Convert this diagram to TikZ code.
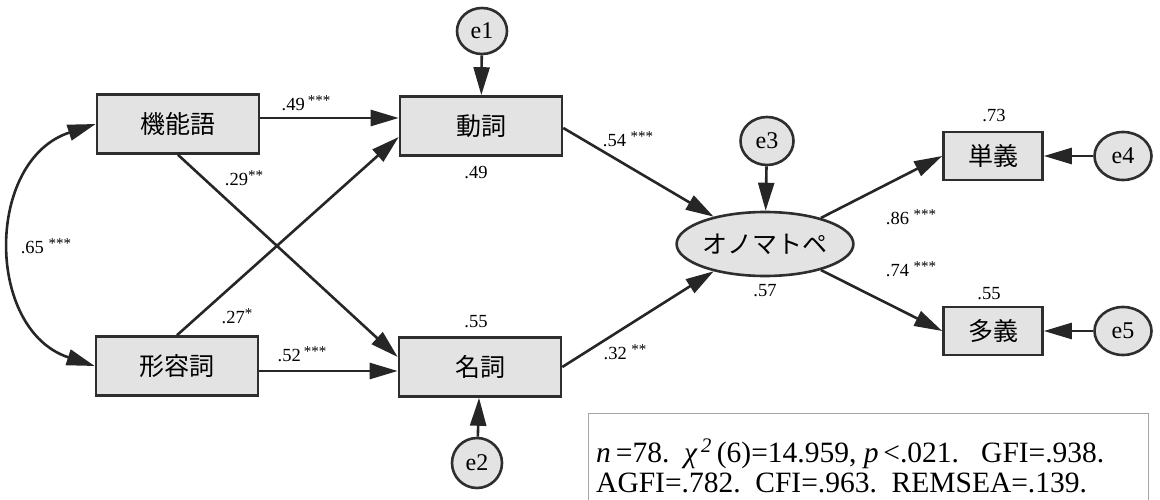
\documentclass[tikz,border=0pt]{standalone}
\usepackage{fontspec}
\setmainfont{Liberation Serif}
\newfontfamily\jp{Noto Sans CJK JP}
\usetikzlibrary{arrows.meta,shapes.geometric}
\newcommand{\stars}[1]{\raisebox{5.5pt}{\fontsize{15}{15}\selectfont #1}}
\begin{document}
\begin{tikzpicture}[x=1pt,y=-1pt,
  semtip/.tip={Triangle[length=28pt,width=16pt]},
  var/.style={draw=black!82,line width=2.6pt,fill=black!11,inner sep=0pt,
    font=\jp\fontsize{25}{25}\selectfont},
  obs/.style={var,minimum width=162pt,minimum height=59pt},
  smallobs/.style={var,minimum width=99pt,minimum height=48pt},
  latent/.style={var,ellipse,minimum width=155pt,minimum height=64pt},
  err/.style={var,ellipse,minimum width=50pt,minimum height=46pt,
    font=\fontsize{24}{24}\selectfont},
  arr/.style={line width=2.6pt,draw=black!85,-{semtip}},
  coef/.style={inner sep=0pt,font=\fontsize{18.5}{18.5}\selectfont},
  fitframe/.style={draw=black!35,line width=1pt,inner sep=0pt},
  fittext/.style={inner sep=0pt,anchor=base west,font=\fontsize{29.5}{29.5}\selectfont}
]
\useasboundingbox (0,0) rectangle (1160,500);

% observed and latent variables
\node[obs] (kino) at (178,124) {機能語};
\node[obs] (keiyo) at (177,366) {形容詞};
\node[obs] (doshi) at (481,126) {動詞};
\node[obs] (meishi) at (480,367) {名詞};
\node[latent] (onoma) at (765,244) {オノマトペ};
\node[smallobs] (tangi) at (993,156) {単義};
\node[smallobs] (tagi) at (993,331) {多義};

% error terms
\node[err] (e1) at (482,31) {e1};
\node[err,minimum height=50pt] (e2) at (477,463) {e2};
\node[err,minimum width=53pt,minimum height=48pt] (e3) at (767,141) {e3};
\node[err,minimum width=57pt,minimum height=48pt] (e4) at (1123,156) {e4};
\node[err,minimum width=57pt,minimum height=48pt] (e5) at (1123,331) {e5};

% covariance between the exogenous variables
\draw[line width=2.6pt,draw=black!85,{semtip}-{semtip}] (kino.west)
  .. controls (-15,160) and (-15,330) .. (keiyo.west);

% paths
\draw[arr] ([yshift=6pt]kino.east) -- ([yshift=6pt]kino.east -| doshi.west);
\draw[arr] ([yshift=-5pt]keiyo.east) -- ([yshift=-5pt]keiyo.east -| meishi.west);
\draw[arr] (kino.south) -- ([yshift=10pt]meishi.west);
\draw[arr] (keiyo.north) -- ([yshift=-11pt]doshi.west);
\draw[arr] ([yshift=-2pt]doshi.east) -- (onoma.152);
\draw[arr] (meishi.east) -- (onoma.208);
\draw[arr] (onoma.25) -- (tangi.west);
\draw[arr] (onoma.-25) -- (tagi.west);
\draw[arr] (e1) -- (doshi);
\draw[arr] (e2) -- (meishi);
\draw[arr] (e3) -- (onoma);
\draw[arr] (e4) -- (tangi);
\draw[arr] (e5) -- (tagi);

% coefficients
\node[coef] (c1) at (306,103) {.49\,\stars{***}};
\node[coef] (c2) at (244,178) {.29\stars{**}};
\node[coef] (c3) at (46,246) {.65\ \stars{***}};
\node[coef] (c4) at (237,316) {.27\stars{*}};
\node[coef] (c5) at (302,354) {.52\,\stars{***}};
\node[coef] (r1) at (476,173) {.49};
\node[coef] (r2) at (476,322) {.55};
\node[coef] (c6) at (628,139) {.54\ \stars{***}};
\node[coef] (c7) at (625,352) {.32\ \stars{**}};
\node[coef] (r3) at (765,291) {.57};
\node[coef] (c8) at (911,217) {.86\ \stars{***}};
\node[coef] (c9) at (911,269) {.74\ \stars{***}};
\node[coef] (r4) at (994,116) {.73};
\node[coef] (r5) at (989,294) {.55};

% fit indices
\node[fitframe,anchor=north west,minimum width=560pt,minimum height=95pt] (fit) at (588,413) {};
\node[fittext] (fit1) at (596,462) {\textit{n}\,=78.\ \ \textit{χ}\textsuperscript{\,\textit{2}}\,(6)=14.959, \textit{p}\,<.021.\ \ \ GFI=.938.};
\node[fittext] (fit2) at (596,492) {AGFI=.782.\ \ CFI=.963.\ \ REMSEA=.139.};
\end{tikzpicture}
\end{document}
